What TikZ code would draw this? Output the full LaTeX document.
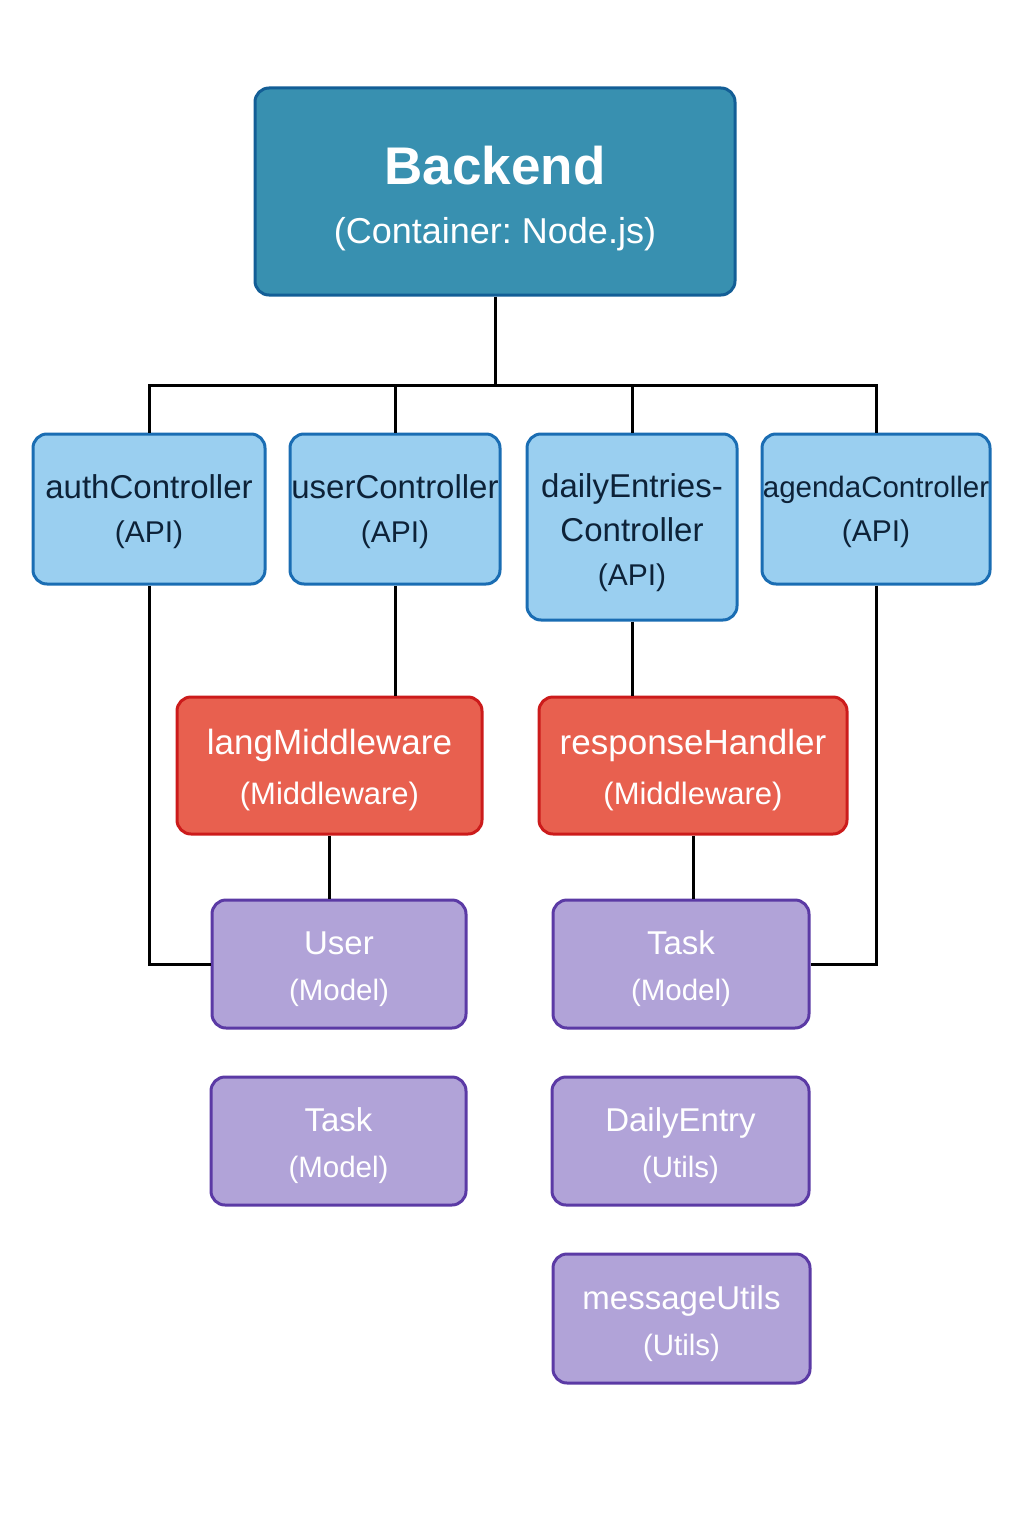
\documentclass[tikz,border=0pt]{standalone}
\usepackage{fontspec}
\setmainfont{Liberation Sans}
\usepackage{xcolor}
\usepackage{tikz}
\usetikzlibrary{
    positioning,
    calc
}
\frenchspacing
\definecolor{backfill}{HTML}{3890B0}
\definecolor{backline}{HTML}{135E96}
\definecolor{apifill}{HTML}{9ACFF0}
\definecolor{apiline}{HTML}{1A6DB3}
\definecolor{apitext}{HTML}{0D2238}
\definecolor{midfill}{HTML}{E8604F}
\definecolor{midline}{HTML}{CC1B1B}
\definecolor{modfill}{HTML}{B1A3D8}
\definecolor{modline}{HTML}{5B3AA5}
\newcommand{\padtop}[1]{\rule{0pt}{#1}}
\newcommand{\backsub}{\fontsize{36}{59}\selectfont}
\newcommand{\apisub}{\fontsize{30}{44}\selectfont}
\newcommand{\midsub}{\fontsize{31}{50}\selectfont}
\newcommand{\modsub}{\fontsize{29.5}{46}\selectfont}
\tikzstyle{box} = [draw, line width=3pt, rounded corners=14pt, align=center, inner sep=0pt]
\tikzstyle{backbox} = [box, fill=backfill, draw=backline, text=white, minimum width=480pt, minimum height=207pt, font=\fontsize{53}{59}\selectfont]
\tikzstyle{apibox} = [box, fill=apifill, draw=apiline, text=apitext, minimum height=150pt, font=\fontsize{33}{44}\selectfont]
\tikzstyle{midbox} = [box, fill=midfill, draw=midline, text=white, minimum height=137pt, font=\fontsize{35}{50}\selectfont]
\tikzstyle{modbox} = [box, fill=modfill, draw=modline, text=white, minimum height=128pt, font=\fontsize{33}{46}\selectfont]
\tikzstyle{link} = [line width=3pt]

\begin{document}
\begin{tikzpicture}[x=1pt,y=-1pt]
    \useasboundingbox (0,0) rectangle (1024,1536);
    % container
    \node[backbox] (backend) at (495,191.5) {\padtop{53pt}{\bfseries Backend}\\\backsub (Container: Node.js)};
    % controllers
    \node[apibox, minimum width=232pt] (auth) at (149,509) {\padtop{30pt}authController\\\apisub (API)};
    \node[apibox, minimum width=210pt] (userc) at (395,509) {\padtop{30pt}userController\\\apisub (API)};
    \node[apibox, minimum width=210pt, minimum height=186pt] (daily) at (632,527) {\padtop{36pt}dailyEntries-\\Controller\\\apisub (API)};
    \node[apibox, minimum width=228pt, font=\fontsize{29.5}{44}\selectfont] (agenda) at (876,509) {\padtop{28pt}agendaController\\\apisub (API)};
    % middleware
    \node[midbox, minimum width=305pt] (lang) at (329.5,765.5) {\padtop{33.5pt}langMiddleware\\\midsub (Middleware)};
    \node[midbox, minimum width=308pt] (resp) at (693,765.5) {\padtop{33.5pt}responseHandler\\\midsub (Middleware)};
    % models and utils
    \node[modbox, minimum width=254pt] (usermod) at (339,964) {\padtop{34pt}User\\\modsub (Model)};
    \node[modbox, minimum width=256pt] (taskmod) at (681,964) {\padtop{34pt}Task\\\modsub (Model)};
    \node[modbox, minimum width=255pt] (taskmodb) at (338.5,1141) {\padtop{34pt}Task\\\modsub (Model)};
    \node[modbox, minimum width=257pt] (entry) at (680.5,1141) {\padtop{34pt}DailyEntry\\\modsub (Utils)};
    \node[modbox, minimum width=257pt, minimum height=129pt] (msgutils) at (681.5,1318.5) {\padtop{34pt}messageUtils\\\modsub (Utils)};
    % links
    \coordinate (bus) at (493,385);
    \draw[link] (backend.south) -- (backend.south |- bus);
    \draw[link] (auth.north) |- (bus) -| (agenda.north);
    \draw[link] (userc.north) -- (userc.north |- bus);
    \draw[link] (daily.north) -- (daily.north |- bus);
    \draw[link] (userc.south) -- (userc.south |- lang.north);
    \draw[link] (lang.south) -- (lang.south |- usermod.north);
    \draw[link] (daily.south) -- (daily.south |- resp.north);
    \draw[link] (resp.south) -- (resp.south |- taskmod.north);
    \draw[link] (auth.south) |- (usermod.west);
    \draw[link] (agenda.south) |- (taskmod.east);
\end{tikzpicture}
\end{document}
